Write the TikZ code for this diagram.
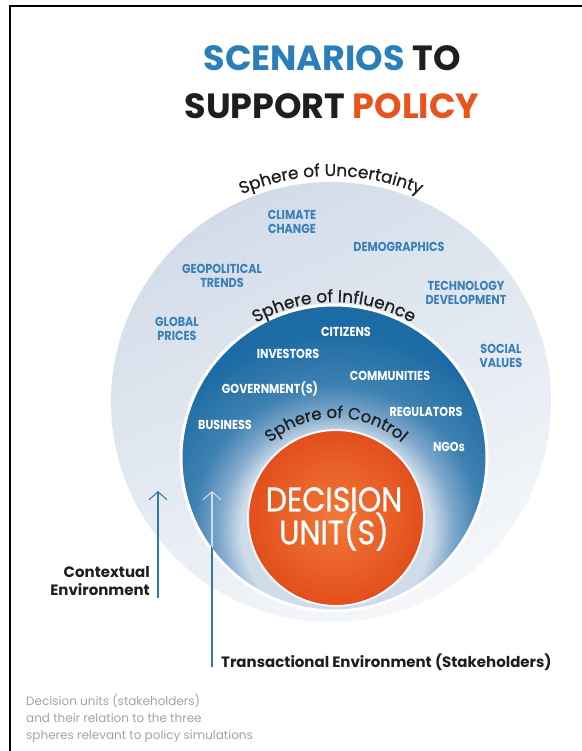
\documentclass[tikz,border=0pt]{standalone}
\usepackage{fontspec}
\setmainfont{Poppins}
\newfontfamily\labfont[FakeStretch=0.86]{Poppins}
\newfontfamily\medfont[FakeBold=0.7]{Poppins}
\newfontfamily\medlabfont[FakeStretch=0.88,FakeBold=0.8]{Poppins}
\usetikzlibrary{decorations.text,arrows.meta}
\definecolor{tblue}{HTML}{2A7FBA}
\definecolor{tblack}{HTML}{1E1E1E}
\definecolor{torange}{HTML}{E8531E}
\definecolor{lblue}{HTML}{3A7FB6}
\definecolor{mblue}{HTML}{1C6BA4}
\definecolor{mbluelight}{HTML}{CFDCEA}
\definecolor{mbluemid}{HTML}{7FA8CC}
\definecolor{outerA}{HTML}{D2DCE9}
\definecolor{outerB}{HTML}{F5F7FA}
\definecolor{capgray}{HTML}{A3A3A3}
\definecolor{arrblue}{HTML}{2F79AE}
\definecolor{orangeA}{HTML}{F07838}
\definecolor{orangeB}{HTML}{E24E1B}
\pgfdeclareradialshading{midshade}{\pgfpoint{0bp}{0bp}}{color(0bp)=(mbluelight); color(11.9bp)=(mbluelight); color(14.6bp)=(mbluemid); color(18bp)=(mblue!85!white); color(25bp)=(mblue); color(50bp)=(mblue)}
\pgfdeclareradialshading{orshade}{\pgfpoint{0bp}{0bp}}{color(0bp)=(orangeA); color(12bp)=(orangeA!55!orangeB); color(25bp)=(orangeB); color(50bp)=(orangeB)}
\tikzset{
  lab/.style={font=\labfont\bfseries\fontsize{13}{13.5}\selectfont, text=lblue, align=center, inner sep=0pt},
  wlab/.style={font=\labfont\bfseries\fontsize{13}{13.5}\selectfont, text=white, align=center, inner sep=0pt},
  envtext/.style={font=\bfseries\fontsize{15}{18}\selectfont, text=tblack, inner sep=0pt},
  envarrow/.style={arrblue, line width=1.1pt, -{Straight Barb[length=8pt,width=18pt,line width=1.1pt]}},
  spheretext/.style={decorate, decoration={text along path, text align=center, text color=tblack}}
}
\begin{document}
\begin{tikzpicture}[x=1pt,y=-1pt]
\fill[white] (0,0) rectangle (581,751);
\useasboundingbox (0,0) rectangle (581,751);
% frame
\draw[black, line width=2.4pt] (10,752) -- (10,6) -- (582,6);
% title
\node[font=\bfseries\fontsize{35}{35}\selectfont, text=tblack, anchor=base, inner sep=0pt] (title1) at (332,71) {\textcolor{tblue}{SCENARIOS} TO};
\node[font=\bfseries\fontsize{35}{35}\selectfont, text=tblack, anchor=base, inner sep=0pt] (title2) at (332,119) {SUPPORT \textcolor{torange}{POLICY}};
% circles
\coordinate (cu) at (331,402);
\coordinate (ci) at (334,458);
\coordinate (cc) at (336,518);
\coordinate (glow) at (336,530);
\shade[top color=outerA, bottom color=outerB, shading angle=25] (cu) circle[radius=220];
\begin{scope}
\clip (ci) circle[radius=153];
\fill[mblue] (ci) circle[radius=153];
\shade[shading=midshade] (glow) circle[radius=200];
\end{scope}
\draw[white, line width=3pt] (ci) circle[radius=153];
\shade[shading=orshade] (cc) circle[radius=88];
\draw[white!80!mbluelight, line width=2pt] (cc) circle[radius=88];
% sphere texts
\path[spheretext, decoration={text={|\medfont\fontsize{17}{17}\selectfont|Sphere of Uncertainty}}] ([shift={(180:226)}]cu) arc[start angle=180, end angle=360, radius=226];
\path[spheretext, decoration={text={|\medfont\fontsize{17}{17}\selectfont|Sphere of Influence}}] ([shift={(180:156)}]ci) arc[start angle=180, end angle=360, radius=156];
\path[spheretext, decoration={text={|\medfont\fontsize{16.5}{16.5}\selectfont|Sphere of Control}}] ([shift={(180:100)}]cc) arc[start angle=180, end angle=360, radius=100];
% outer labels
\node[lab] (climate) at (292,222) {CLIMATE\\CHANGE};
\node[lab] (demo) at (399,247) {DEMOGRAPHICS};
\node[lab] (geo) at (222,276) {GEOPOLITICAL\\TRENDS};
\node[lab] (tech) at (466,293) {TECHNOLOGY\\DEVELOPMENT};
\node[lab] (global) at (177,329) {GLOBAL\\PRICES};
\node[lab] (social) at (501,356) {SOCIAL\\VALUES};
% middle labels
\node[wlab] (citizens) at (346,332) {CITIZENS};
\node[wlab] (investors) at (288,354) {INVESTORS};
\node[wlab] (communities) at (390,376) {COMMUNITIES};
\node[wlab] (government) at (270,389) {GOVERNMENT(S)};
\node[wlab] (regulators) at (426,412) {REGULATORS};
\node[wlab] (business) at (225,425) {BUSINESS};
\node[wlab] (ngos) at (449,447) {NGOs};
% decision units
\node[font=\medlabfont\fontsize{34}{33}\selectfont, text=white, align=center, inner sep=0pt] (du) at (334,519) {DECISION\\UNIT(S)};
% environment labels and arrows
\node[envtext, align=right, anchor=north east] (context) at (150,566) {Contextual\\Environment};
\node[envtext, anchor=base west] (trans) at (221,667) {Transactional Environment (Stakeholders)};
\coordinate (a1s) at (158,598);
\coordinate (a1e) at (158,491);
\coordinate (a2s) at (212,667);
\coordinate (a2e) at (212,491);
\draw[envarrow] (a1s) -- (a1e);
\draw[envarrow] (a2s) -- (a2e);
\begin{scope}
\clip (ci) circle[radius=151];
\draw[envarrow, draw=mbluelight] (a2s) -- (a2e);
\end{scope}
% caption
\node[font=\fontsize{12}{17}\selectfont, text=capgray, align=left, anchor=north west, inner sep=0pt] (caption) at (26,694) {Decision units (stakeholders)\\and their relation to the three\\spheres relevant to policy simulations};
\end{tikzpicture}
\end{document}
